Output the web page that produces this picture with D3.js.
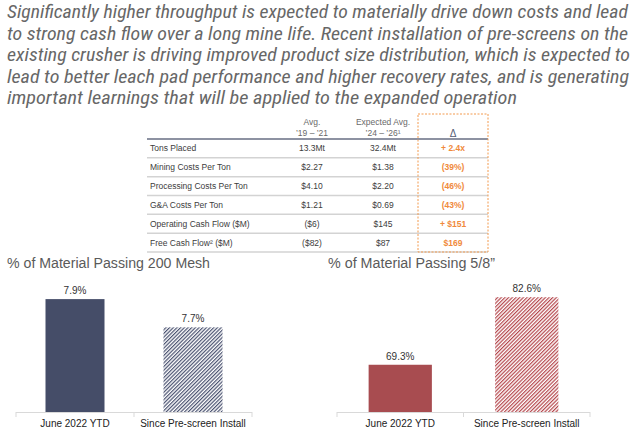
<!DOCTYPE html>
<html><head><meta charset="utf-8">
<script src="https://cdn.jsdelivr.net/npm/d3@7"></script>
<style>
html,body{margin:0;padding:0;background:#fff;}
svg{display:block;}
text{font-family:"Liberation Sans",Arial,sans-serif;}
</style></head>
<body>
<svg id="c" width="640" height="431"></svg>
<script>
// ---- data ----
const paragraphLines = [
  "Significantly higher throughput is expected to materially drive down costs and lead",
  "to strong cash flow over a long mine life. Recent installation of pre-screens on the",
  "existing crusher is driving improved product size distribution, which is expected to",
  "lead to better leach pad performance and higher recovery rates, and is generating",
  "important learnings that will be applied to the expanded operation"
];
const paragraphWidths = [621, 621, 623, 622, 510];
const tableHeader1 = ["Avg.", "Expected Avg.", ""];
const tableHeader2 = ["\u201919 \u2013 \u201921", "\u201924 \u2013 \u201926\u00B9", "\u0394"];
const tableRows = ["Tons Placed", "Mining Costs Per Ton", "Processing Costs Per Ton", "G&A Costs Per Ton", "Operating Cash Flow ($M)", "Free Cash Flow\u00B2 ($M)"];
const avg1921 = ["13.3Mt", "$2.27", "$4.10", "$1.21", "($6)", "($82)"];
const exp2426 = ["32.4Mt", "$1.38", "$2.20", "$0.69", "$145", "$87"];
const deltas = ["+ 2.4x", "(39%)", "(46%)", "(43%)", "+ $151", "$169"];
const categories = ["June 2022 YTD", "Since Pre-screen Install"];
const mesh200 = [7.9, 7.7];
const passing58 = [69.3, 82.6];
const chartTitles = ["% of Material Passing 200 Mesh", "% of Material Passing 5/8\u201D"];

const svg = d3.select("#c");

// ---- paragraph ----
svg.append("g").selectAll("text").data(paragraphLines).join("text")
  .attr("x", 7).attr("y", 18 ).attr("dy", (d,i) => i*21.6)
  .attr("y", (d,i) => 18 + i*21.6).attr("dy", null)
  .attr("font-size", 18.5).attr("font-style", "italic").attr("fill", "#676767")
  .style("font-family", "'Liberation Sans Narrow','Roboto Condensed','Liberation Sans',Arial,sans-serif")
  .attr("textLength", (d,i) => paragraphWidths[i]).attr("lengthAdjust", "spacingAndGlyphs")
  .text(d => d);

// ---- table ----
const tbl = svg.append("g");
const colX = [150, 312, 383, 453];
const rowY = d3.scaleBand().domain(d3.range(tableRows.length)).range([139, 252]);
const tLeft = 147, tRight = 488;
// header
tbl.selectAll(".h1").data(tableHeader1).join("text")
  .attr("x", (d,i) => colX[i+1]).attr("y", 125).attr("text-anchor", "middle")
  .attr("font-size", 8.5).attr("fill", "#6a6a6a").text(d => d);
tbl.selectAll(".h2").data(tableHeader2).join("text")
  .attr("x", (d,i) => colX[i+1]).attr("y", (d,i) => i === 2 ? 137 : 135.5).attr("text-anchor", "middle")
  .attr("font-size", (d,i) => i === 2 ? 10 : 8.5).attr("fill", (d,i) => i===2 ? "#555d75" : "#6a6a6a").text(d => d);
// row separators
tbl.selectAll(".sep").data(d3.range(1, tableRows.length + 1)).join("line")
  .attr("x1", tLeft).attr("x2", tRight)
  .attr("y1", d => rowY(d) !== undefined ? rowY(d) : 252).attr("y2", d => rowY(d) !== undefined ? rowY(d) : 252)
  .attr("stroke", "#d3d3d3").attr("stroke-width", 1.5);
tbl.append("line").attr("x1", tLeft).attr("x2", tRight).attr("y1", 139).attr("y2", 139)
  .attr("stroke", "#8d92a2").attr("stroke-width", 2);
// rows
const rowG = tbl.selectAll(".row").data(tableRows).join("g")
  .attr("transform", (d,i) => `translate(0,${rowY(i) + rowY.bandwidth()/2 + 3})`);
rowG.append("text").attr("x", colX[0]).attr("font-size", 8.5).attr("fill", "#3c3c3c").text(d => d);
rowG.append("text").attr("x", colX[1]).attr("text-anchor", "middle").attr("font-size", 8.5).attr("fill", "#3c3c3c").text((d,i) => avg1921[i]);
rowG.append("text").attr("x", colX[2]).attr("text-anchor", "middle").attr("font-size", 8.5).attr("fill", "#3c3c3c").text((d,i) => exp2426[i]);
rowG.append("text").attr("x", colX[3]).attr("text-anchor", "middle").attr("font-size", 8.5).attr("font-weight", "bold").attr("fill", "#f08a3c").text((d,i) => deltas[i]);
// dashed delta box
tbl.append("rect").attr("x", 418).attr("y", 114).attr("width", 70).attr("height", 138)
  .attr("fill", "none").attr("stroke", "#f39a4e").attr("stroke-width", 1).attr("stroke-dasharray", "2,1.5");

// ---- hatch patterns ----
const defs = svg.append("defs");
function hatch(id, color) {
  const p = defs.append("pattern").attr("id", id).attr("patternUnits", "userSpaceOnUse")
    .attr("width", 2.6).attr("height", 2.6).attr("patternTransform", "rotate(45)");
  p.append("rect").attr("width", 2.6).attr("height", 2.6).attr("fill", "#fff");
  p.append("rect").attr("width", 1.2).attr("height", 2.6).attr("fill", color);
}
hatch("hatchBlue", "#4a5270");
hatch("hatchRed", "#b5474d");

// ---- bar charts ----
function barChart(values, domain, xRange, title, titleX, titleW, solid, hatchId) {
  const g = svg.append("g");
  const x = d3.scaleBand().domain(categories).range(xRange).paddingInner(0.5).paddingOuter(0.25);
  const y = d3.scaleLinear().domain(domain).range([412, 285]);
  g.append("text").attr("x", titleX).attr("y", 268).attr("font-size", 15.5).attr("fill", "#5a5a5a")
    .attr("textLength", titleW).attr("lengthAdjust", "spacingAndGlyphs").text(title);
  g.selectAll(".bar").data(values).join("rect")
    .attr("x", (d,i) => x(categories[i])).attr("width", x.bandwidth())
    .attr("y", d => y(d)).attr("height", d => 412 - y(d))
    .attr("fill", (d,i) => i === 0 ? solid : `url(#${hatchId})`);
  g.selectAll(".val").data(values).join("text")
    .attr("x", (d,i) => x(categories[i]) + x.bandwidth()/2).attr("y", d => y(d) - 5)
    .attr("text-anchor", "middle").attr("font-size", 10).attr("fill", "#333").text(d => d.toFixed(1) + "%");
  const ax = g.append("g").attr("transform", "translate(0,412)")
    .call(d3.axisBottom(x).tickSize(0).tickPadding(8));
  ax.select(".domain").remove();
  ax.selectAll("text").attr("font-size", 10).attr("fill", "#222").attr("font-family", "Liberation Sans, Arial, sans-serif");
  g.append("line").attr("x1", xRange[0]).attr("x2", xRange[1]).attr("y1", 412.5).attr("y2", 412.5).attr("stroke", "#d9d9d9");
  g.selectAll(".tk").data([xRange[0], (xRange[0]+xRange[1])/2, xRange[1]]).join("line")
    .attr("x1", d => d).attr("x2", d => d).attr("y1", 412).attr("y2", 417).attr("stroke", "#d9d9d9");
}
barChart(mesh200, [7.1, 8.0], [16, 252], chartTitles[0], 7, 203, "#454d68", "hatchBlue");
barChart(passing58, [60, 85], [337, 590], chartTitles[1], 328, 167, "#a84c50", "hatchRed");
</script>
</body></html>
